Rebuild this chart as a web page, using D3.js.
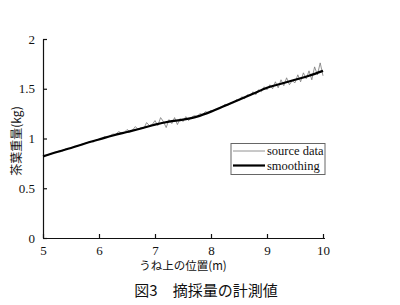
<!DOCTYPE html>
<html><head><meta charset="utf-8">
<script src="https://cdn.jsdelivr.net/npm/d3@7"></script>
<style>body{margin:0;background:#fff}svg{display:block}</style>
</head><body><svg id="c" width="400" height="305"></svg>
<script>
const xTicks = [5,6,7,8,9,10];
const yTicks = [0,0.5,1,1.5,2];
const smoothX = [5,5.25,5.5,5.75,6,6.25,6.5,6.75,7,7.25,7.5,7.75,8,8.25,8.5,8.75,9,9.25,9.5,9.75,10];
const smoothY = [0.82,0.865,0.905,0.95,0.99,1.03,1.065,1.10,1.14,1.17,1.19,1.22,1.27,1.33,1.39,1.45,1.51,1.55,1.59,1.63,1.68];
const sourceX = [5,5.05,5.1,5.15,5.2,5.25,5.3,5.35,5.4,5.45,5.5,5.55,5.6,5.65,5.7,5.75,5.8,5.85,5.9,5.95,
6,6.05,6.1,6.15,6.2,6.25,6.3,6.35,6.4,6.45,6.5,6.55,6.6,6.65,6.7,6.75,6.8,6.85,6.9,6.95,
7,7.05,7.1,7.15,7.2,7.25,7.3,7.35,7.4,7.45,7.5,7.55,7.6,7.65,7.7,7.75,7.8,7.85,7.9,7.95,
8,8.05,8.1,8.15,8.2,8.25,8.3,8.35,8.4,8.45,8.5,8.55,8.6,8.65,8.7,8.75,8.8,8.85,8.9,8.95,
9,9.05,9.1,9.15,9.2,9.25,9.3,9.35,9.4,9.45,9.5,9.55,9.6,9.65,9.7,9.75,9.8,9.85,9.9,9.95,10];
const sourceY = [0.82,0.83,0.835,0.845,0.86,0.865,0.88,0.875,0.895,0.90,0.90,0.92,0.925,0.93,0.945,0.95,0.96,0.97,0.965,0.985,
0.995,1.0,1.02,1.01,1.03,1.045,1.04,1.07,1.055,1.06,1.09,1.07,1.085,1.12,1.09,1.11,1.10,1.16,1.13,1.14,
1.18,1.13,1.21,1.17,1.11,1.19,1.15,1.21,1.14,1.20,1.17,1.22,1.18,1.21,1.23,1.22,1.25,1.24,1.27,1.26,
1.28,1.285,1.30,1.31,1.32,1.345,1.33,1.36,1.36,1.39,1.38,1.42,1.40,1.44,1.43,1.47,1.44,1.49,1.47,1.52,
1.49,1.54,1.50,1.57,1.51,1.59,1.53,1.61,1.54,1.58,1.56,1.64,1.57,1.66,1.60,1.68,1.59,1.72,1.64,1.76,1.63];

const svg = d3.select('#c');
const x = d3.scaleLinear().domain([5,10]).range([43,323]);
const y = d3.scaleLinear().domain([0,2]).range([238,39]);
const serif = "'Liberation Serif','DejaVu Serif',serif";

const ax = svg.append('g').attr('transform','translate(0,238)')
  .call(d3.axisBottom(x).tickValues(xTicks).tickFormat(d3.format('d')).tickSize(-4).tickSizeOuter(0).tickPadding(8));
ax.select('.domain').attr('d','M43,0.5H325');
const ay = svg.append('g').attr('transform','translate(43,0)')
  .call(d3.axisLeft(y).tickValues(yTicks).tickFormat(d=>d).tickSize(-4).tickSizeOuter(0).tickPadding(8));
[ax,ay].forEach(g=>{
  g.selectAll('text').attr('font-family',serif).attr('font-size',13).attr('fill','#111');
  g.selectAll('line,path').attr('stroke','#111').attr('stroke-width',1.2);
});

const line = d3.line().x(d=>x(d[0])).y(d=>y(d[1]));
svg.append('path').datum(sourceX.map((v,i)=>[v,sourceY[i]]))
  .attr('d',line).attr('fill','none').attr('stroke','#777').attr('stroke-width',0.8);
svg.append('path').datum(smoothX.map((v,i)=>[v,smoothY[i]]))
  .attr('d',line.curve(d3.curveMonotoneX)).attr('fill','none').attr('stroke','#000').attr('stroke-width',2.2);

// legend
const lg = svg.append('g');
lg.append('rect').attr('x',231).attr('y',143.5).attr('width',94).attr('height',31)
  .attr('fill','#fff').attr('stroke','#666').attr('stroke-width',1);
lg.append('line').attr('x1',233).attr('x2',265).attr('y1',151).attr('y2',151).attr('stroke','#777').attr('stroke-width',0.8);
lg.append('line').attr('x1',233).attr('x2',265).attr('y1',165.5).attr('y2',165.5).attr('stroke','#000').attr('stroke-width',2.2);
lg.append('text').attr('x',267).attr('y',155).text('source data').attr('font-family',serif).attr('font-size',12.5).attr('fill','#111');
lg.append('text').attr('x',267).attr('y',170).text('smoothing').attr('font-family',serif).attr('font-size',12.5).attr('fill','#111');

// axis titles
svg.append('text').attr('transform','translate(21,141) rotate(-90)').attr('text-anchor','middle')
  .attr('font-family',"'Noto Sans CJK JP',sans-serif").attr('font-size',12).attr('fill','#111').text('茶葉重量(kg)');
svg.append('text').attr('x',183).attr('y',270).attr('text-anchor','middle')
  .attr('font-family',"'Noto Sans CJK JP',sans-serif").attr('font-size',11.5).attr('fill','#111').text('うね上の位置(m)');
svg.append('text').attr('x',206).attr('y',296).attr('text-anchor','middle')
  .attr('font-family',"'Noto Sans CJK JP',sans-serif").attr('font-size',15).attr('fill','#111').text('図3　摘採量の計測値');
</script></body></html>
